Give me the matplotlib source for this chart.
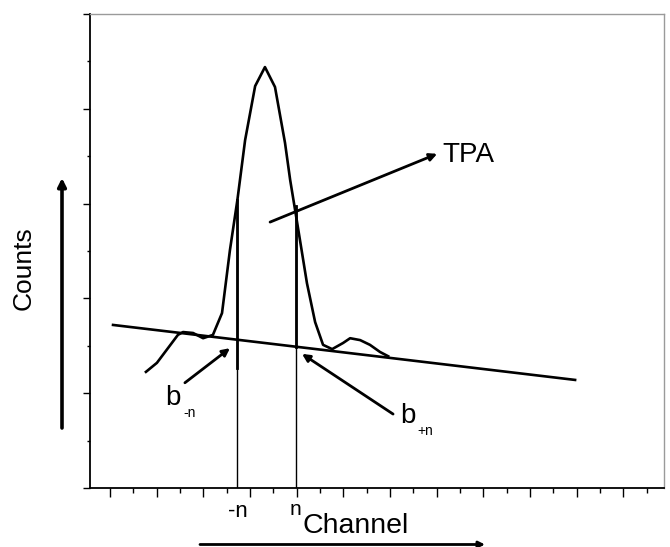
import matplotlib
matplotlib.use("Agg")
import matplotlib.pyplot as plt
import numpy as np

plt.rcParams['font.family'] = ['Liberation Sans', 'DejaVu Sans']

# spectrum around the peak (channel, counts)
channel = [1.54, 2.01, 2.91, 3.13, 3.56, 3.99, 4.41, 4.80, 5.14, 5.46, 5.79, 6.22,
           6.64, 7.07, 7.50, 7.72, 7.91, 8.21, 8.44, 8.79, 9.13, 9.52, 9.99, 10.29,
           10.72, 11.14, 11.57, 11.92]
counts = [2.45, 2.64, 3.23, 3.29, 3.27, 3.16, 3.23, 3.69, 5.02, 6.08, 7.34, 8.48,
          8.88, 8.46, 7.28, 6.50, 5.93, 5.02, 4.32, 3.50, 3.02, 2.93, 3.06, 3.16,
          3.12, 3.02, 2.87, 2.78]

# linear background under the peak
bg_x = [0.13, 19.93]
bg_y = [3.44, 2.28]

# integration limits -n and n
lim_x = [5.46, 7.98]
lim_top = [6.08, 5.95]
lim_thick_from = [2.53, 2.97]

fig = plt.figure(figsize=(6.7, 5.47), dpi=100)
ax = fig.add_axes([90/670, 1 - 488/547, 574/670, 474/547])

ax.plot(channel, counts, color='k', lw=1.9)
ax.plot(bg_x, bg_y, color='k', lw=1.9)
for x, top, lo in zip(lim_x, lim_top, lim_thick_from):
    ax.plot([x, x], [0, top], color='k', lw=1.0)
    ax.plot([x, x], [lo, top], color='k', lw=2.0)

ax.set_xlim(-0.857, 23.74)
ax.set_ylim(0, 10)
ax.set_xticks(np.arange(0, 23, 2))
ax.set_xticks(np.arange(1, 24, 2), minor=True)
ax.set_yticks(np.arange(0, 11, 2))
ax.set_yticks(np.arange(1, 10, 2), minor=True)
ax.tick_params(which='both', labelbottom=False, labelleft=False, direction='out',
               width=1.0, color='k')
ax.tick_params(axis='x', which='major', length=6.5)
ax.tick_params(axis='x', which='minor', length=3.5)
ax.tick_params(axis='y', which='major', length=5)
ax.tick_params(axis='y', which='minor', length=2.5)
for side in ['left', 'bottom']:
    ax.spines[side].set_linewidth(1.3)
for side in ['top', 'right']:
    ax.spines[side].set_linewidth(1.0)
    ax.spines[side].set_color('#9a9a9a')

arrow = dict(arrowstyle='-|>', color='k', lw=2.0, mutation_scale=11,
             shrinkA=0, shrinkB=0)

# TPA label
ax.annotate('', xy=(14.02, 7.05), xytext=(6.86, 5.61), arrowprops=arrow)
ax.text(14.25, 7.03, 'TPA', fontsize=20, va='center', ha='left')

# background points
ax.annotate('', xy=(5.14, 2.95), xytext=(3.21, 2.22), arrowprops=arrow)
ax.annotate('', xy=(8.23, 2.83), xytext=(12.13, 1.56), arrowprops=arrow)
ax.text(2.36, 1.75, 'b', fontsize=20, va='baseline', ha='left')
ax.text(3.13, 1.50, '-n', fontsize=10, va='baseline', ha='left')
ax.text(12.43, 1.37, 'b', fontsize=20, va='baseline', ha='left')
ax.text(13.16, 1.12, '+n', fontsize=10, va='baseline', ha='left')

# limit labels below the axis
ax.text(5.49, -0.61, '-n', fontsize=16, va='baseline', ha='center', clip_on=False)
ax.text(7.95, -0.57, 'n', fontsize=15, va='baseline', ha='center', clip_on=False)

# axis names with direction arrows
fig.text(24/670, 1 - 268/547, 'Counts', fontsize=19, rotation=90,
         ha='center', va='center')
fig.text(303/670, 1 - 533/547, 'Channel', fontsize=20.5, ha='left', va='baseline')
fig.add_artist(matplotlib.patches.FancyArrowPatch(
    (62/670, 1 - 428/547), (62/670, 1 - 178/547),
    transform=fig.transFigure, arrowstyle='-|>', color='k', lw=2.6,
    mutation_scale=12, shrinkA=0, shrinkB=0))
fig.add_artist(matplotlib.patches.FancyArrowPatch(
    (200/670, 1 - 544.5/547), (485/670, 1 - 544.5/547),
    transform=fig.transFigure, arrowstyle='-|>', color='k', lw=2.0,
    mutation_scale=9, shrinkA=0, shrinkB=0))

fig.savefig('out.png', dpi=100)
